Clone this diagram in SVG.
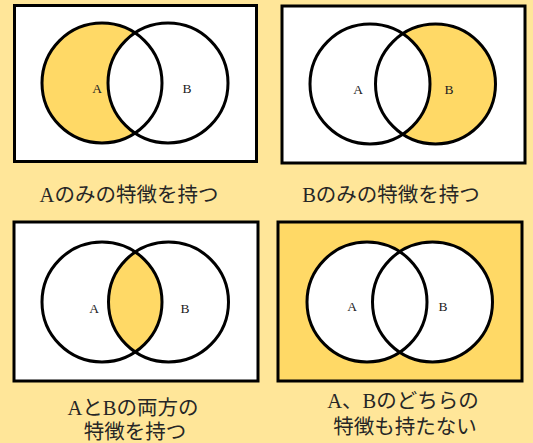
<svg xmlns="http://www.w3.org/2000/svg" width="533" height="443" viewBox="0 0 533 443">
<style>
.bg{fill:#FFE699}
.frame{fill:#FFFFFF;stroke:#000;stroke-width:3}
.frameY{fill:#FFD966;stroke:#000;stroke-width:3}
.ring{fill:none;stroke:#000;stroke-width:3}
.yel{fill:#FFD966}
.wht{fill:#FFFFFF}
.lbl{font-family:"Liberation Serif","Noto Sans CJK JP",serif;font-size:13.5px;fill:#222;text-anchor:middle}
.cap{font-family:"Liberation Serif","Noto Sans CJK JP",serif;font-size:20.5px;fill:#262626;text-anchor:middle}
</style>
<defs>
<clipPath id="clipB3"><circle cx="168.5" cy="302" r="60"/></clipPath>
</defs>
<rect class="bg" x="0" y="0" width="533" height="443"/>

<g id="panel-a-only">
<rect class="frame" x="14.5" y="5.5" width="242" height="156"/>
<circle class="yel" cx="102" cy="83" r="60"/>
<circle class="wht" cx="168" cy="83" r="60"/>
<circle class="ring" cx="102" cy="83" r="60"/>
<circle class="ring" cx="168" cy="83" r="60"/>
<text class="lbl" x="97" y="93">A</text>
<text class="lbl" x="187" y="93">B</text>
<text class="cap" x="129" y="202">Aのみの特徴を持つ</text>
</g>

<g id="panel-b-only">
<rect class="frame" x="282" y="6" width="243" height="157"/>
<circle class="yel" cx="435.5" cy="84" r="60"/>
<circle class="wht" cx="370" cy="84" r="60"/>
<circle class="ring" cx="370" cy="84" r="60"/>
<circle class="ring" cx="435.5" cy="84" r="60"/>
<text class="lbl" x="358" y="94">A</text>
<text class="lbl" x="449" y="94">B</text>
<text class="cap" x="391" y="202">Bのみの特徴を持つ</text>
</g>

<g id="panel-both">
<rect class="frame" x="14" y="222" width="244" height="159"/>
<circle class="yel" cx="102" cy="302" r="60" clip-path="url(#clipB3)"/>
<circle class="ring" cx="102" cy="302" r="60"/>
<circle class="ring" cx="168.5" cy="302" r="60"/>
<text class="lbl" x="94" y="313">A</text>
<text class="lbl" x="185" y="313">B</text>
<text class="cap" x="133" y="415">AとBの両方の</text>
<text class="cap" x="135" y="439">特徴を持つ</text>
</g>

<g id="panel-neither">
<rect class="frameY" x="278" y="222" width="244" height="159"/>
<circle class="wht" cx="367" cy="302" r="60"/>
<circle class="wht" cx="432.5" cy="302" r="60"/>
<circle class="ring" cx="367" cy="302" r="60"/>
<circle class="ring" cx="432.5" cy="302" r="60"/>
<text class="lbl" x="352" y="311">A</text>
<text class="lbl" x="443" y="311">B</text>
<text class="cap" x="403" y="408">A、Bのどちらの</text>
<text class="cap" x="405" y="434">特徴も持たない</text>
</g>

<g id="connectors"></g>
</svg>
